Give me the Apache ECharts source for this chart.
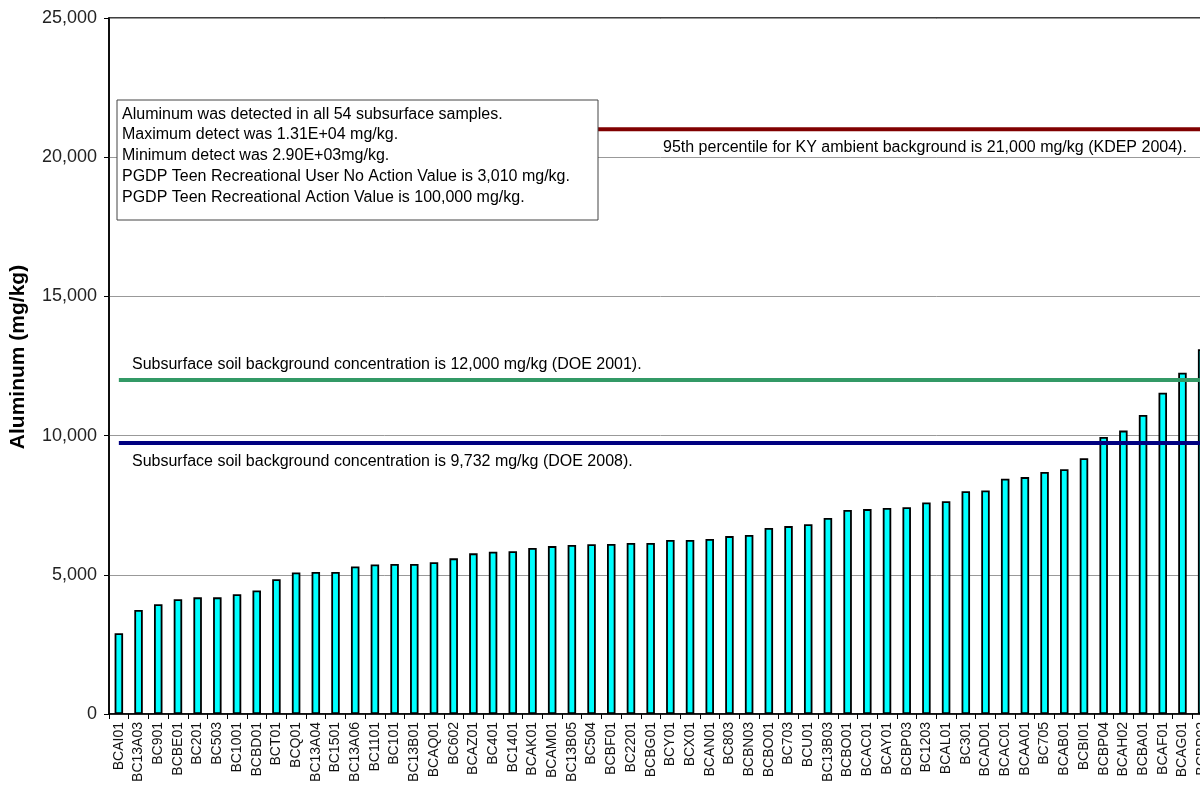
<!DOCTYPE html>
<html>
<head>
<meta charset="utf-8">
<script src="https://cdn.jsdelivr.net/npm/echarts@6/dist/echarts.min.js"></script>
<style>
html,body{margin:0;padding:0;background:#fff;overflow:hidden;width:1200px;height:787px;}
#chart{width:1212px;height:787px;}
</style>
</head>
<body>
<div id="chart"></div>
<script>
const categories = ['BCAI01','BC13A03','BC901','BCBE01','BC201','BC503','BC1001','BCBD01','BCT01','BCQ01',
  'BC13A04','BC1501','BC13A06','BC1101','BC101','BC13B01','BCAQ01','BC602','BCAZ01','BC401',
  'BC1401','BCAK01','BCAM01','BC13B05','BC504','BCBF01','BC2201','BCBG01','BCY01','BCX01',
  'BCAN01','BC803','BCBN03','BCBO01','BC703','BCU01','BC13B03','BCBO01 ','BCAC01','BCAY01',
  'BCBP03','BC1203','BCAL01','BC301','BCAD01','BCAC01 ','BCAA01','BC705','BCAB01','BCBI01',
  'BCBP04','BCAH02','BCBA01','BCAF01','BCAG01','BCBP02'];
const aluminum = [2900,3740,3940,4120,4190,4190,4300,4440,4840,5080,
  5100,5100,5300,5370,5390,5390,5450,5590,5770,5830,
  5850,5960,6030,6070,6100,6110,6140,6140,6250,6250,
  6290,6390,6430,6680,6750,6820,7040,7330,7360,7400,
  7430,7600,7640,8000,8030,8450,8510,8690,8790,9190,
  9950,10180,10740,11540,12260,13100];
const ky95 = 21000;
const doe2001 = 12000;
const doe2008 = 9732;
const yTicks = [0, 5000, 10000, 15000, 20000, 25000];
const noteLines = [
  'Aluminum was detected in all 54 subsurface samples.',
  'Maximum detect was 1.31E+04 mg/kg.',
  'Minimum detect was 2.90E+03mg/kg.',
  'PGDP Teen Recreational User No Action Value is 3,010 mg/kg.',
  'PGDP Teen Recreational Action Value is 100,000 mg/kg.'
];
const labelKY = '95th percentile for KY ambient background is 21,000 mg/kg (KDEP 2004).';
const label2001 = 'Subsurface soil background concentration is 12,000 mg/kg (DOE 2001).';
const label2008 = 'Subsurface soil background concentration is 9,732 mg/kg (DOE 2008).';

const FONT = '"Liberation Sans", Arial, sans-serif';
const chart = echarts.init(document.getElementById('chart'));

function refLine(value, color) {
  return {
    type: 'line',
    data: categories.map(() => value),
    symbol: 'none',
    lineStyle: { color: color, width: 4 },
    z: 5,
    silent: true
  };
}

chart.setOption({
  animation: false,
  backgroundColor: '#fff',
  grid: { left: 106, top: 18, right: 0, bottom: 73, show: true, borderColor: '#000', borderWidth: 1.5, backgroundColor: 'transparent' },
  xAxis: {
    type: 'category',
    data: categories,
    axisLine: { lineStyle: { color: '#000', width: 1.5 } },
    axisTick: { show: true, length: 5, lineStyle: { color: '#000' } },
    axisLabel: { rotate: 90, interval: 0, fontSize: 14, fontFamily: FONT, color: '#111', margin: 8,
      formatter: v => v.trim() }
  },
  yAxis: {
    type: 'value',
    min: yTicks[0], max: yTicks[yTicks.length - 1], interval: 5000,
    name: 'Aluminum (mg/kg)',
    nameLocation: 'middle',
    nameRotate: 90,
    nameGap: 80,
    nameTextStyle: { fontSize: 21, fontWeight: 'bold', fontFamily: FONT, color: '#000', padding: [0, 0, 0, 18] },
    axisLine: { show: true, lineStyle: { color: '#000', width: 1.5 } },
    axisTick: { show: true, length: 5, lineStyle: { color: '#000' } },
    axisLabel: { fontSize: 18, fontFamily: FONT, color: '#222', margin: 12,
      formatter: v => v.toLocaleString('en-US') },
    splitLine: { show: true, lineStyle: { color: '#999', width: 1 } }
  },
  series: [
    {
      type: 'bar',
      data: aluminum,
      barWidth: 8.5,
      itemStyle: { color: '#00FFFF', borderColor: '#000', borderWidth: 1.8 },
      z: 2
    },
    refLine(ky95, '#800000'),
    refLine(doe2001, '#339966'),
    refLine(doe2008, '#000080')
  ],
  graphic: [
    { type: 'rect', z: 100, zlevel: 1, shape: { x: 117, y: 100, width: 481, height: 120 },
      style: { fill: '#fff', stroke: '#444', lineWidth: 1 } },
    { type: 'text', z: 101, zlevel: 1, x: 122, y: 104,
      style: { text: noteLines.join('\n'), font: '16px ' + FONT, fill: '#000', lineHeight: 20.7 } },
    { type: 'text', z: 100, zlevel: 1, x: 663, y: 140, style: { text: labelKY, font: '16px ' + FONT, fill: '#000' } },
    { type: 'text', z: 100, zlevel: 1, x: 132, y: 357, style: { text: label2001, font: '16px ' + FONT, fill: '#000' } },
    { type: 'text', z: 100, zlevel: 1, x: 132, y: 454, style: { text: label2008, font: '16px ' + FONT, fill: '#000' } }
  ]
});
</script>
</body>
</html>
